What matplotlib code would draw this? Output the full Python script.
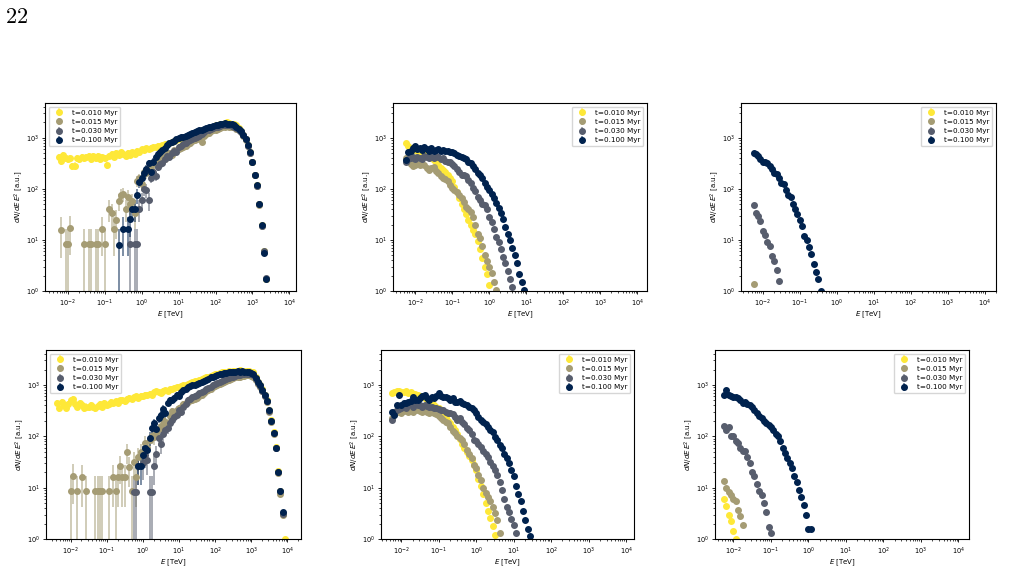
import numpy as np
import matplotlib
matplotlib.use('Agg')
import matplotlib.pyplot as plt

N = None

# energy bin centres [TeV]
E = [0.00316, 0.00365, 0.00422, 0.00487, 0.00562, 0.00649, 0.00750, 0.00866,
     0.0100, 0.0115, 0.0133, 0.0154, 0.0178, 0.0205, 0.0237, 0.0274,
     0.0316, 0.0365, 0.0422, 0.0487, 0.0562, 0.0649, 0.0750, 0.0866,
     0.100, 0.115, 0.133, 0.154, 0.178, 0.205, 0.237, 0.274,
     0.316, 0.365, 0.422, 0.487, 0.562, 0.649, 0.750, 0.866,
     1.00, 1.15, 1.33, 1.54, 1.78, 2.05, 2.37, 2.74,
     3.16, 3.65, 4.22, 4.87, 5.62, 6.49, 7.50, 8.66,
     10.0, 11.5, 13.3, 15.4, 17.8, 20.5, 23.7, 27.4,
     31.6, 36.5, 42.2, 48.7, 56.2, 64.9, 75.0, 86.6,
     100, 115, 133, 154, 178, 205, 237, 274,
     316, 365, 422, 487, 562, 649, 750, 866,
     1000, 1150, 1330, 1540, 1780, 2050, 2370, 2740,
     3160, 3650, 4220, 4870, 5620, 6490, 7500, 8660,
     10000]

LABELS = ['t=0.010 Myr', 't=0.015 Myr', 't=0.030 Myr', 't=0.100 Myr']
XTICKS = [1e-2, 1e-1, 1e0, 1e1, 1e2, 1e3, 1e4]

# ---------------- top-left ----------------
TL_Y = [N, N, N, N, 420, 350, 470, 400,
        380, 400, 280, 285, 400, 380, 430, 400, 420, 450, 380, 440, 400, 450, 380, 420,
        400, 290, 450, 480, 420, 500, 460, 520, 480, 440, 500, 470, 520, 490, 550, 530,
        600, 580, 620, 600, 640, 650, 660, 700, 690, 720, 760, 750, 800, 830, 860, 900,
        950, 980, 1000, 1050, 1100, 1150, 1200, 1250, 1300, 1350, 1400, 1450, 1500, 1550, 1600, 1650,
        1750, 1800, 1850, 1900, 1950, 2050, 1950, 1900, 1850, 1750, 1550, 1350, 1150, 950, 720, 520,
        340, 190, 120, 50, 20, 6, 1.7]
TL_T = [N, N, N, N, N, 16, N, 8.3,
        8.3, 17, N, N, N, N, N, 8.3, N, 8.3, 8.3, N, 8.3, 8.3, N, 16.6,
        8.3, N, 41, 33, 16.6, 25, 58, 75, 80, 41, 70, 50, 58, 33, 145, 160,
        125, 215, 200, 270, 250, 300, 360, 330, 400, 420, 380, 480, 500, 470, 570, 540,
        600, 620, 650, 700, 770, 800, 850, 900, 950, 1000, 830, 1100, 1200, 1250, 1350, 1400,
        1450, 1500, 1550, 1600, 1650, 1700, 1650, 1650, 1600, 1500, 1400, 1300, 1100, 900, 700, 500,
        330, 185, 115, 48, 19, 5.8, 1.7]
TL_G = [N, N, N, N, N, N, N, N,
        N, N, N, N, N, N, N, N, N, N, N, N, N, N, N, N,
        N, N, N, N, N, N, N, N, N, N, N, 8.3, N, 8.3, 8.3, 41,
        60, 100, 95, 60, 165, 215, 180, 270, 300, 320, 380, 440, 420, 510, 560, 520,
        670, 700, 770, 800, 850, 900, 950, 1000, 1050, 1100, 1200, 1300, 1400, 1450, 1500, 1550,
        1600, 1650, 1700, 1750, 1800, 1800, 1750, 1700, 1650, 1550, 1450, 1300, 1150, 930, 700, 510,
        330, 185, 115, 50, 19, 6, 1.8]
TL_N = [N, N, N, N, N, N, N, N,
        N, N, N, N, N, N, N, N, N, N, N, N, N, N, N, N,
        N, N, N, N, N, N, 8, N, 16.6, N, 16.6, 26, 41, 41, 75, 137,
        160, 200, 250, 315, 215, 340, 420, 490, 520, 570, 640, 720, 780, 840, 880, 930,
        980, 1020, 1050, 1100, 1150, 1200, 1250, 1300, 1350, 1400, 1450, 1500, 1550, 1600, 1650, 1700,
        1750, 1800, 1850, 1900, 1950, 1900, 1900, 1850, 1750, 1650, 1500, 1350, 1150, 950, 720, 520,
        340, 190, 120, 50, 20, 5.6, 1.7]

# ---------------- top-middle ----------------
TM_Y = [N, N, N, N, 780, 700, 640, 600,
        570, 560, 520, 510, 480, 450, 430, 400, 370, 330, 290, 260, 235, 215, 190, 160,
        140, 110, 85, 65, 50, 40, 32, 25, 20, 16, 13, 9.5, 6.5, 4.5, 3.0, 2.2,
        1.3]
TM_T = [N, N, N, N, 400, 420, 300, 280,
        290, 300, 290, 310, 290, 260, 230, 260, 270, 220, 200, 180, 165, 155, 140, 120,
        105, 95, 85, 75, 65, 55, 45, 40, 36, 28, 20, 13, 11, 7.5, 5, 3.8,
        3.0, 2.3, 1.5, 1.05]
TM_G = [N, N, N, N, 330, 380, 400, 420,
        380, 420, 400, 380, 440, 420, 400, 430, 410, 440, 420, 380, 400, 350, 340, 330,
        310, 280, 250, 210, 190, 185, 175, 150, 130, 105, 90, 70, 60, 50, 48, 40,
        28, 22, 16.5, 11.5, 9, 6.5, 4.6, 3.5, 2.5, 1.7, 1.2]
TM_N = [N, N, N, N, 370, 530, 560, 620,
        680, 600, 620, 580, 670, 600, 560, 620, 540, 580, 600, 560, 580, 560, 540, 520,
        530, 500, 460, 450, 420, 400, 380, 340, 315, 280, 240, 200, 185, 160, 130, 110,
        94, 80, 65, 52, 42, 33, 26, 18, 13, 9.8, 7, 5, 3.5, 2.2, 1.5, 1.05]

# ---------------- top-right ----------------
TR_Y = []
TR_T = [N, N, N, N, 1.4]
TR_G = [N, N, N, N, 48, 34, 30, 24,
        15, 12.5, 9, 7.5, 4.9, 3.8, 2.6, 1.6]
TR_N = [N, N, N, N, 500, 480, 440, 390,
        340, 340, 320, 280, 240, 200, 195, 160, 130, 125, 95, 75, 68, 50, 40, 32,
        25, 19, 12, 10, 7.3, 5.3, 3.4, 2.4, 1.7, 1.0]

# ---------------- bottom-left ----------------
BL_Y = [N, N, 445, 355, 470, 400, 360, 430,
        500, 540, 420, 380, 450, 400, 350, 380, 370, 400, 380, 350, 390, 420, 380, 440,
        400, 430, 470, 440, 480, 450, 500, 520, 480, 540, 560, 540, 580, 600, 560, 620,
        600, 650, 640, 680, 650, 720, 760, 740, 700, 780, 800, 760, 820, 850, 880, 900,
        920, 950, 980, 1000, 1050, 1100, 1150, 1200, 1200, 1250, 1300, 1350, 1400, 1450, 1500, 1550,
        1600, 1650, 1700, 1750, 1750, 1800, 1850, 1800, 1850, 1900, 1900, 1950, 1900, 1900, 1900, 1850,
        1800, 1750, 1400, 1150, 1000, 820, 650, 500, 330, 210, 120, 62, 21, 8.5, 3.1, 1.0]
BL_T = [N, N, N, N, N, N, N, N,
        8.6, 16.7, N, 8.6, N, 16, N, 8.6, N, N, N, 8.6, 8.6, 8.6, 8.6, N,
        N, 8.6, N, 16, 8.6, 16, 27, 16, 16, 50, 25, 8.6, 32, 16, 40, 50,
        45, 74, 60, 85, 100, 95, 116, 140, 160, 210, 190, 180, 250, 305, 280, 330,
        355, 380, 420, 445, 470, 500, 500, 530, 560, 600, 650, 700, 750, 800, 850, 900,
        950, 1000, 1050, 1100, 1150, 1200, 1250, 1300, 1350, 1400, 1450, 1450, 1500, 1500, 1550, 1550,
        1500, 1450, 1250, 1050, 900, 750, 600, 460, 300, 190, 110, 58, 19, 7.5, 2.9]
BL_G = [N, N, N, N, N, N, N, N,
        N, N, N, N, N, N, N, N, N, N, N, N, N, N, N, N,
        N, N, N, N, N, N, N, N, N, N, N, N, 8.4, 8.4, 26, N,
        30, 44, 35, 8.4, 8.4, 26, 45, 92, 70, 110, 130, 145, 180, 210, 240, 265,
        330, 300, 380, 420, 520, 540, 580, 620, 650, 690, 720, 770, 820, 870, 920, 980,
        1050, 1100, 1150, 1200, 1250, 1300, 1350, 1400, 1450, 1500, 1550, 1580, 1600, 1620, 1650, 1650,
        1600, 1550, 1320, 1100, 950, 780, 620, 480, 310, 195, 115, 60, 20, 8.5, 3.1]
BL_N = [N, N, N, N, N, N, N, N,
        N, N, N, N, N, N, N, N, N, N, N, N, N, N, N, N,
        N, N, N, N, N, N, N, N, N, N, N, N, N, N, 26, 26,
        44, 59, 55, 92, 145, 180, 140, 230, 265, 345, 280, 445, 515, 500, 560, 650,
        620, 720, 800, 850, 900, 940, 980, 1020, 1050, 1100, 1150, 1200, 1250, 1300, 1400, 1450,
        1500, 1550, 1600, 1650, 1700, 1700, 1750, 1750, 1800, 1800, 1850, 1800, 1850, 1800, 1800, 1750,
        1700, 1650, 1380, 1150, 980, 800, 640, 490, 320, 200, 118, 60, 20, 8.6, 3.3]

# ---------------- bottom-middle ----------------
BM_Y = [N, N, N, N, 700, 720, 760, 780,
        740, 720, 780, 700, 740, 680, 660, 640, 600, 580, 560, 500, 480, 450, 410, 380,
        350, 300, 260, 233, 200, 178, 150, 130, 110, 90, 72, 60, 50, 42, 35, 28,
        22, 15, 11, 7.5, 5, 3.5, 2.6, 1.8, 1.2]
BM_T = [N, N, N, N, 230, 260, 300, 320,
        280, 310, 330, 300, 340, 300, 320, 330, 310, 300, 320, 300, 290, 300, 280, 270,
        250, 230, 210, 190, 178, 150, 125, 115, 100, 92, 84, 70, 55, 46, 38, 28,
        24, 18, 14, 10, 8, 6.5, 5.5, 4.2, 3.2, 2.3, 1.3]
BM_G = [N, N, N, N, 205, 300, 320, 340,
        350, 380, 360, 400, 420, 380, 440, 400, 410, 380, 400, 390, 370, 380, 360, 350,
        340, 330, 320, 300, 290, 280, 270, 240, 205, 230, 190, 170, 143, 130, 110, 84,
        80, 70, 63, 52, 46, 40, 32, 26, 22, 17.5, 13, 9, 6, 4.2, 3.3, 2.5, 1.9, 1.3]
BM_N = [N, N, N, N, 300, 260, 400, 640,
        410, 450, 440, 470, 480, 590, 520, 500, 560, 600, 640, 550, 520, 580, 550, 600,
        690, 620, 580, 590, 570, 500, 560, 470, 460, 480, 440, 430, 400, 380, 350, 320,
        280, 240, 210, 190, 170, 150, 133, 120, 95, 84, 67, 58, 46, 38, 30, 22,
        17, 11, 7.5, 5.5, 3.5, 2.3, 1.6, 1.13]

# ---------------- bottom-right ----------------
BR_Y = [N, N, N, N, 6.1, 4.4, 3.0, 2.25, 1.43, 1.0]
BR_T = [N, N, N, N, 13.6, 10, 8.3, 7.1, 5.9, 5.5, 3.7, 2.8, 1.85]
BR_G = [N, N, N, N, 158, 130, 150, 101,
        100, 80, 73, 60, 52, 52, 40, 30, 20, 17, 12, 8.6, 7.1, 5, 3.4, 1.7,
        1.3]
BR_N = [N, N, N, N, 640, 800, 640, 600,
        590, 580, 560, 520, 450, 470, 430, 400, 380, 320, 280, 250, 225, 200, 185, 165,
        150, 130, 110, 100, 80, 60, 48, 38, 30, 24, 17, 13, 9, 6.5, 4.5, 3.0,
        1.6, 1.6]

# weight of a single simulated particle below ERR_EMAX (sets the Poisson error bars)
WEIGHT_TL = 8.3
WEIGHT_BL = 8.6
WEIGHT_OTHER = 0.0
ERR_EMAX = 20.0   # TeV; above this the statistical errors are negligible

plt.rcParams['font.family'] = 'DejaVu Sans'
fig = plt.figure(figsize=(10.21, 5.78), dpi=100)

COLORS = plt.cm.cividis([1.0, 2 / 3, 1 / 3, 0.0])
FS_TICK = 4.8
FS_LAB = 5.0
FS_LEG = 5.2


def panel(rect, series, weight, xlim, loc):
    ax = fig.add_axes(rect)
    for y, c, lab in zip(series, COLORS, LABELS):
        y = np.array(y if len(y) else [N], dtype=float)
        x = np.array(E[:len(y)], dtype=float)
        err = np.where(x < ERR_EMAX, np.sqrt(y * weight), 0.0)
        eb = ax.errorbar(x, y, yerr=err, fmt='o', ms=4.0, color=c, ecolor=c,
                         elinewidth=1.2, capsize=0, label=lab)
        for bc in eb[2]:
            bc.set_alpha(0.6)
    ax.set_xscale('log')
    ax.set_yscale('log')
    ax.set_xticks(XTICKS)
    ax.set_xlim(*xlim)
    ax.set_ylim(1, 4800)
    ax.set_xlabel(r'$E$ [TeV]', fontsize=FS_LAB, labelpad=1.0)
    ax.set_ylabel(r'$dN/dE\,E^2$ [a.u.]', fontsize=FS_LAB, labelpad=0.5)
    ax.tick_params(which='major', labelsize=FS_TICK, length=2.5, width=0.6, pad=2)
    ax.tick_params(which='minor', length=1.5, width=0.5)
    for s in ax.spines.values():
        s.set_linewidth(0.8)
    ax.legend(loc=loc, fontsize=FS_LEG, handletextpad=0.8, borderpad=0.4,
              labelspacing=0.45)
    return ax


W, H = 1021.0, 578.0


def rect(x0, x1, y0, y1):
    return [x0 / W, 1 - y1 / H, (x1 - x0) / W, (y1 - y0) / H]


panel(rect(45, 296, 103, 291), [TL_Y, TL_T, TL_G, TL_N], WEIGHT_TL,
      (10 ** -2.62, 10 ** 4.18), 'upper left')
panel(rect(393, 647, 103, 291), [TM_Y, TM_T, TM_G, TM_N], WEIGHT_OTHER,
      (10 ** -2.60, 10 ** 4.26), 'upper right')
panel(rect(741, 996, 103, 291), [TR_Y, TR_T, TR_G, TR_N], WEIGHT_OTHER,
      (10 ** -2.59, 10 ** 4.31), 'upper right')
panel(rect(46, 301, 350, 539), [BL_Y, BL_T, BL_G, BL_N], WEIGHT_BL,
      (10 ** -2.68, 10 ** 4.38), 'upper left')
panel(rect(381, 634, 350, 539), [BM_Y, BM_T, BM_G, BM_N], WEIGHT_OTHER,
      (10 ** -2.54, 10 ** 4.21), 'upper right')
panel(rect(715, 969, 350, 539), [BR_Y, BR_T, BR_G, BR_N], WEIGHT_OTHER,
      (10 ** -2.49, 10 ** 4.28), 'upper right')

fig.text(5 / W, 1 - 23 / H, r'$\mathrm{22}$', fontsize=16, math_fontfamily='cm',
         ha='left', va='baseline')

fig.savefig('out.png', dpi=100)
